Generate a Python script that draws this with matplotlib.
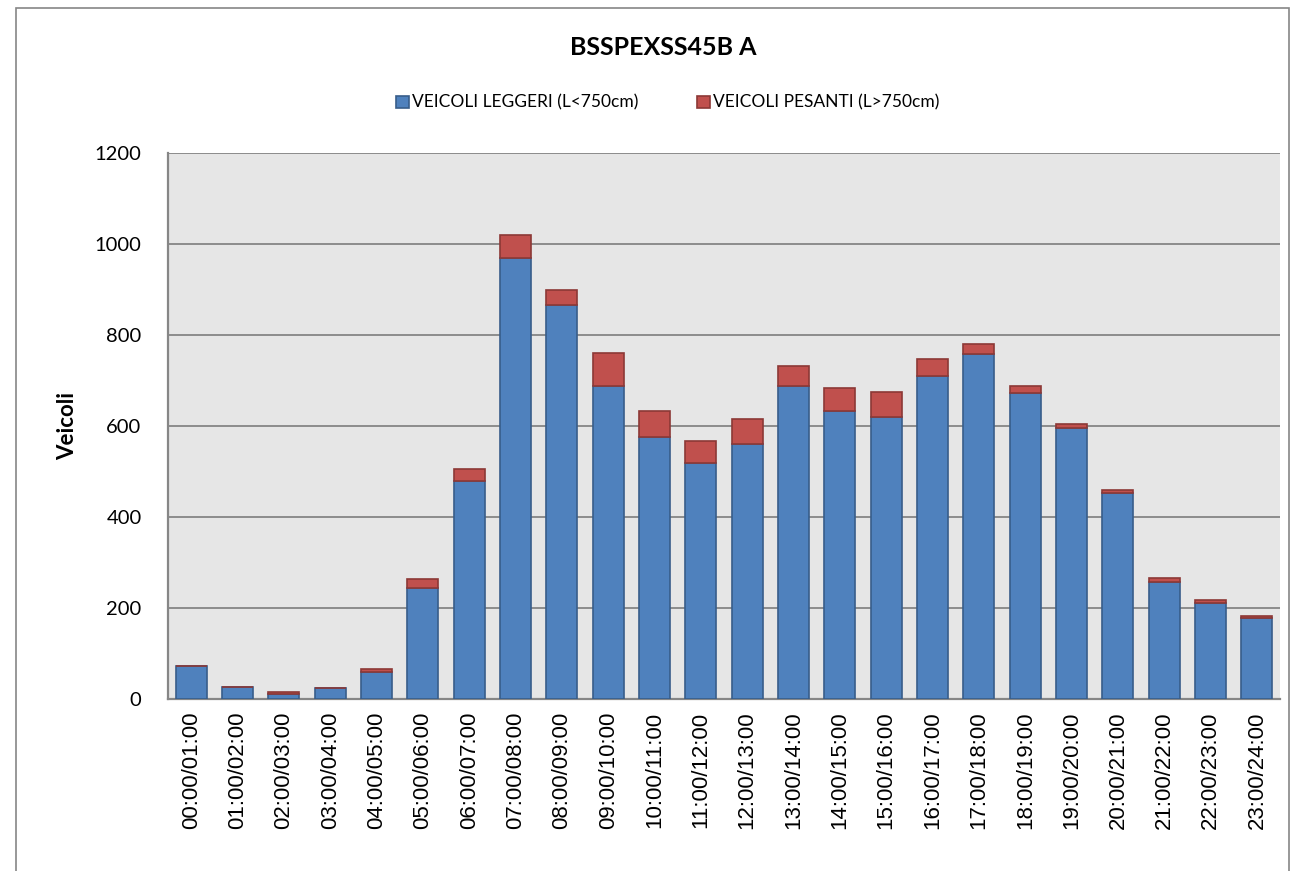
import numpy as np
import matplotlib.pyplot as plt
from matplotlib.patches import Rectangle

plt.rcParams['font.family'] = ['Lato', 'DejaVu Sans']

# fasce orarie
fasce = ['00:00/01:00', '01:00/02:00', '02:00/03:00', '03:00/04:00', '04:00/05:00',
         '05:00/06:00', '06:00/07:00', '07:00/08:00', '08:00/09:00', '09:00/10:00',
         '10:00/11:00', '11:00/12:00', '12:00/13:00', '13:00/14:00', '14:00/15:00',
         '15:00/16:00', '16:00/17:00', '17:00/18:00', '18:00/19:00', '19:00/20:00',
         '20:00/21:00', '21:00/22:00', '22:00/23:00', '23:00/24:00']

leggeri = [72, 26, 12, 25, 60, 245, 480, 970, 865, 687, 575, 518,
           560, 689, 634, 620, 709, 758, 673, 596, 453, 258, 212, 177]
pesanti = [0, 0, 3, 0, 5, 18, 25, 50, 33, 73, 57, 50,
           56, 42, 49, 55, 39, 22, 16, 8, 7, 9, 6, 5]

fig = plt.figure(figsize=(12.97, 8.71), dpi=100)
ax = fig.add_axes([0.1295, 0.1975, 0.8575, 0.6268])
ax.set_facecolor('#E6E6E6')

x = np.arange(len(fasce))
ax.bar(x, leggeri, width=0.67, color='#4F81BD', edgecolor='#385D8A', linewidth=1.2,
       label='VEICOLI LEGGERI (L<750cm)', zorder=3)
ax.bar(x, pesanti, bottom=leggeri, width=0.67, color='#C0504D', edgecolor='#8C3836',
       linewidth=1.2, label='VEICOLI PESANTI (L>750cm)', zorder=3)

ax.set_xlim(-0.5, len(fasce) - 0.5)
ax.set_ylim(0, 1200)
ax.set_yticks(range(0, 1201, 200))
ax.yaxis.grid(True, color='#8C8C8C', linewidth=1.4, zorder=0)
ax.set_xticks(x)
ax.set_xticklabels(fasce, rotation=90, fontsize=16, family='Liberation Sans')
ax.tick_params(axis='x', length=0, pad=9)
ax.tick_params(axis='y', labelsize=14.5, length=0, pad=19)

for s in ['top', 'right']:
    ax.spines[s].set_visible(False)
for s in ['left', 'bottom']:
    ax.spines[s].set_color('#868686')
    ax.spines[s].set_linewidth(1.6)

ax.set_ylabel('Veicoli', fontsize=16, fontweight='bold', labelpad=12)

fig.text(0.5115, 0.945, 'BSSPEXSS45B A', ha='center', va='center',
         fontsize=18, fontweight='bold')
fig.legend(loc='center', bbox_to_anchor=(0.515, 0.882), ncol=2, frameon=False,
           fontsize=12.5, handlelength=0.7, handleheight=0.7, handletextpad=0.2,
           columnspacing=3.4)

fig.patches.append(Rectangle((16 / 1297, -0.01), (1289 - 16) / 1297, 1 - 8 / 871 + 0.01,
                             transform=fig.transFigure, fill=False,
                             edgecolor='#868686', linewidth=1.2))

fig.savefig('out.png', dpi=100)
